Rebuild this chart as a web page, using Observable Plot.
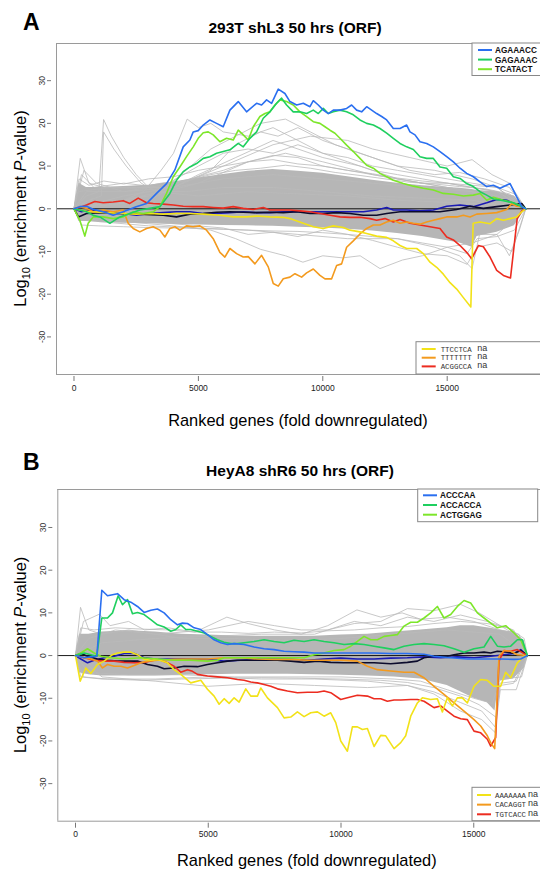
<!DOCTYPE html>
<html><head><meta charset="utf-8">
<script src="https://cdn.jsdelivr.net/npm/d3@7"></script>
<script src="https://cdn.jsdelivr.net/npm/@observablehq/plot@0.6"></script>
<style>
body{margin:0;background:#fff;width:540px;height:869px;overflow:hidden;font-family:"Liberation Sans",Arial,sans-serif}
svg{display:block}
</style></head><body><div id="chart"></div>
<script>
// ---------- shared ----------
const xTicks = [0, 5000, 10000, 15000];
const yTicks = [-30, -20, -10, 0, 10, 20, 30];
const titleA = "293T shL3 50 hrs (ORF)";
const titleB = "HeyA8 shR6 50 hrs (ORF)";
const xLabel = "Ranked genes (fold downregulated)";

// ---------- panel A: coloured series ([gene rank, log10 enrichment]) ----------
const A_AGAAACC = [[0,0],[235,0.5],[503,0.6],[771,-0.1],[1307,-0.9],[1575,-1.5],[1977,-0.7],[2500,0.5],[2916,1.25],[3318,3.6],[3720,5.9],[4055,9.1],[4390,14.5],[4658,16.1],[4792,18],[4993,18.3],[5194,19.6],[5462,20.8],[5730,20],[5998,19.2],[6267,23.1],[6602,25.1],[6937,22.7],[7339,24.7],[7540,24.3],[7741,25.5],[7942,24.7],[8210,28],[8478,27],[8680,25.1],[8948,24.3],[9216,24.7],[9484,23.9],[9618,25.3],[9819,24.3],[10020,23.1],[10221,22.3],[10422,23.1],[10690,23.1],[10958,23.5],[11159,24.3],[11360,23.1],[11562,22.7],[11763,23.9],[11964,23.1],[12165,22.3],[12366,21.6],[12567,20.8],[12835,18.8],[13103,18.8],[13371,19.6],[13505,18],[13706,17.3],[13907,15.7],[14175,15.3],[14443,14.5],[14711,13.4],[14980,12.2],[15248,11],[15516,9.5],[15784,8.3],[16052,7.5],[16320,6.3],[16588,5.2],[16856,5.5],[17125,4.8],[17527,5.9],[17795,2.8],[17996,0.5],[18157,0]];
const A_GAGAAAC = [[0,0],[235,-0.3],[503,-0.7],[771,-1.5],[1039,-1.9],[1441,-3.4],[1843,-1.9],[2245,-1.1],[2647,-0.3],[3050,0.1],[3452,0.5],[3854,3.6],[4122,6.7],[4390,8.7],[4658,9.8],[4926,10.6],[5194,11.8],[5462,12.2],[5730,13],[5998,13.4],[6267,13.8],[6602,15.3],[6803,14.5],[7071,16.5],[7339,18],[7607,21.2],[7875,22.7],[8143,24.7],[8344,25.9],[8545,24.3],[8813,22.7],[9082,22.7],[9350,22.3],[9618,23.1],[9819,22.3],[10020,23.5],[10221,22.3],[10422,22.7],[10690,23.1],[10958,22.7],[11226,22],[11494,20.8],[11763,20],[12031,19.6],[12299,18.8],[12567,17.7],[12835,16.5],[13103,15.3],[13371,14.5],[13639,13.9],[13907,12.2],[14175,11.8],[14443,11.8],[14711,9.8],[14980,9.5],[15248,7.5],[15516,7.1],[15784,5.9],[16052,5.2],[16320,4],[16588,3.2],[16856,2.3],[17259,1.9],[17661,1.4],[17996,0.5],[18157,0]];
const A_TCATACT = [[0,0],[235,-2.7],[436,-6.4],[570,-3.4],[771,-1.9],[1173,-1.9],[1575,-2.3],[1977,-1.9],[2379,-0.7],[2781,-1.1],[3184,-0.7],[3452,0.5],[3720,3.6],[3988,7.5],[4256,9.8],[4524,12.2],[4792,14.5],[4993,16.5],[5194,17.8],[5395,18],[5596,17.3],[5864,15.7],[6132,16.5],[6400,16.1],[6602,18.4],[6803,17.3],[7004,16.1],[7205,19.2],[7473,21.6],[7674,22.3],[7875,22.7],[8076,24.3],[8278,25.5],[8545,25.1],[8813,24.3],[9082,22.7],[9350,21.6],[9618,20.4],[9886,20],[10087,19.2],[10288,18.4],[10489,17.7],[10690,16.5],[10958,14.9],[11226,13.4],[11494,11.8],[11763,10.2],[12031,9.5],[12299,8.3],[12567,7.5],[12835,6.7],[13237,5.9],[13639,5.3],[14041,4.8],[14443,4.4],[14845,3.6],[15248,3.4],[15650,3],[16052,3.2],[16320,3.6],[16588,2],[16856,2.7],[17259,2],[17661,1.4],[17996,0.6],[18157,0]];
const A_TTCCTCA = [[0,0],[235,-0.3],[637,-0.7],[1307,-0.9],[1977,-1.1],[2500,-1.25],[3050,-1.1],[3586,-1.25],[4122,-1.1],[4658,-1.1],[5194,-1.25],[5864,-1.5],[6400,-1.9],[6937,-1.9],[7339,-1.7],[7875,-1.9],[8412,-2],[8680,-2.3],[9216,-3.4],[9618,-4.2],[10020,-4.6],[10422,-4],[10824,-4.4],[11092,-5],[11494,-5.4],[11763,-5.8],[12165,-6.4],[12567,-6.7],[12835,-7.5],[13103,-8.6],[13371,-9.3],[13773,-9.3],[14041,-10.5],[14309,-12.5],[14577,-13.7],[14845,-15.3],[15114,-17.3],[15382,-18.8],[15650,-20.8],[15949,-23],[16044,-3.4],[16320,-3.1],[16722,-3.5],[16990,-2.3],[17259,-2.7],[17527,-2.3],[17795,-1.9],[17996,-0.7],[18157,0]];
const A_TTTTTTT = [[0,0],[235,0.5],[503,0.1],[771,-0.7],[1173,-0.3],[1575,-0.7],[1977,-0.3],[2178,-3.4],[2379,-4.6],[2647,-5.4],[2916,-4.6],[3184,-4.2],[3452,-5],[3653,-6.6],[3854,-4.6],[4055,-4.2],[4256,-5],[4524,-4],[4792,-4.2],[5060,-4],[5328,-5],[5596,-7],[5864,-10.2],[6065,-11.3],[6267,-9.3],[6535,-10.5],[6803,-11.3],[7004,-11.2],[7272,-12.9],[7540,-10.9],[7808,-13.6],[8009,-17.5],[8210,-18.1],[8412,-16.4],[8680,-16],[8881,-15.2],[9149,-16],[9350,-15],[9618,-14.1],[9886,-15.6],[10087,-16.4],[10355,-16.4],[10556,-13.3],[10757,-12.9],[10958,-9],[11226,-7.5],[11494,-5.9],[11763,-4.6],[12031,-3.8],[12299,-3.8],[12567,-3.1],[12835,-2.7],[13103,-3.4],[13371,-3.1],[13639,-3.4],[13907,-3.6],[14175,-3.1],[14443,-2.7],[14711,-2.3],[14980,-1.9],[15382,-1.9],[15650,-1.5],[15918,-1.9],[16186,-1.25],[16588,-1.1],[16990,-0.9],[17393,-0.15],[17594,1.25],[17795,0.6],[17996,0.5],[18157,0]];
const A_ACGGCCA = [[0,0],[235,0.3],[503,0.9],[838,1.7],[1173,1.4],[1575,1.6],[1977,1.9],[2245,1.25],[2580,2.5],[2916,1.4],[3184,1.25],[3586,1.1],[3988,0.9],[4390,0.6],[4792,0.5],[5194,0.5],[5596,0.3],[5998,0.15],[6400,0.5],[6803,0.1],[7205,-0.15],[7607,0.3],[7875,-0.3],[8278,-0.3],[8680,-0.3],[9082,-0.5],[9484,-0.7],[9886,-1.1],[10288,-1.5],[10690,-1.9],[11092,-2],[11494,-2],[11896,-2.3],[12165,-2.7],[12500,-2.3],[12835,-3.1],[13103,-2.5],[13505,-3.4],[13907,-3.8],[14309,-4.2],[14711,-4.6],[14980,-6.6],[15248,-7.3],[15516,-8.6],[15784,-10.2],[15985,-11.7],[16253,-8.6],[16454,-8.9],[16722,-11.3],[16990,-14.4],[17259,-15.6],[17544,-16.2],[17813,-2.3],[17996,-0.5],[18157,0]];
const A_navy = [[0,0],[302,-0.7],[637,-0.3],[1307,-0.7],[1977,-1.1],[2513,-1.5],[3050,-1.1],[3586,-0.9],[4122,-0.7],[4658,-0.7],[5194,-1.1],[5730,-1.1],[6267,-0.9],[6803,-0.7],[7339,-0.9],[7875,-0.9],[8412,-0.7],[8948,-0.7],[9484,-0.7],[10020,-0.7],[10556,-0.7],[11092,-0.7],[11629,-0.7],[12165,-0.3],[12567,0.3],[12835,-0.3],[13371,-0.3],[13907,-0.5],[14443,-0.3],[14980,0.6],[15516,0.9],[16052,0.5],[16588,1.4],[16990,2.2],[17393,2],[17795,0.9],[18157,0]];
const A_black = [[0,0],[180,-1.9],[503,-1.1],[1039,-0.9],[1709,-1.1],[2647,-1.25],[3586,-1.5],[4122,-1.9],[4658,-1.25],[5194,-1.1],[5730,-0.8],[6267,-0.7],[6803,-0.8],[7339,-0.9],[7875,-0.8],[8412,-0.9],[8948,-0.7],[9484,-1.1],[10020,-1.1],[10556,-0.9],[11092,-1.1],[11629,-1.5],[12165,-1.5],[12567,-1.1],[13103,-0.7],[13639,-0.7],[14041,-0.7],[14711,-0.7],[15382,-0.15],[15918,0.6],[16454,0.1],[16990,0.5],[17527,0.9],[17996,1.25],[18157,0]];

// panel A: dense grey background band (upper / lower edge) and stray grey profiles
const A_bandX  = [0,200,500,1000,2000,3000,4000,5000,6000,7000,8000,9000,10000,11000,12000,13000,14000,15000,15500,16000,16200,17000,17700,18157];
const A_bandHi = [0,6,5,5,5.2,5.5,6.3,7.2,8,8.8,9.2,8.8,8.3,7.5,6.7,6,5.4,5,4.8,4.5,4.3,4,3,0];
const A_bandLo = [0,-3,-3,-3.2,-3.4,-3.5,-3.7,-3.8,-3.9,-4,-4.1,-4.3,-4.5,-4.8,-5.2,-5.8,-6.5,-7.5,-8,-9,-6.5,-5.5,-4,0];
const A_grey = [
  [[0,0],[500,3],[1000,4],[1190,20.9],[1500,17],[2000,12],[2500,8],[3000,5],[3500,4],[4500,4],[6000,5],[8000,5],[10000,4],[12000,3],[14000,2.5],[16000,2],[18157,0]],
  [[0,0],[600,2],[1100,3],[1190,18],[1600,14],[2100,10],[2700,6],[3300,4],[5000,3],[7000,4],[9000,3.5],[11000,3],[13000,2],[15000,1.5],[17000,1],[18157,0]],
  [[0,0],[1000,1],[2000,2],[2800,4],[3500,9],[4000,13],[4550,21],[5000,19],[5500,20],[6000,18],[7000,17],[8000,19],[9000,16],[10000,13],[11000,11],[12000,9],[13000,8],[14000,7],[15000,6],[16000,5],[17000,4],[18157,0]],
  [[0,0],[2000,2],[3500,4],[4500,9],[5500,14],[6500,17],[7500,20],[8500,21],[9500,18],[10500,15],[11500,13],[12500,11],[13500,9],[14500,8],[15500,8.5],[16500,7],[17500,5],[18157,0]],
  [[0,0],[2000,3],[4000,5],[6000,10],[8000,15],[9500,17],[11000,16],[12000,14],[13500,12],[15000,10],[16000,11.5],[16800,8],[17500,6],[18157,0]],
  [[0,0],[3000,3],[5000,6],[7000,11],[8500,13],[10000,11],[12000,8],[14000,6],[16000,4],[18157,0]],
  [[0,0],[3000,2],[5000,8],[6500,12],[8000,16],[9000,14],[10000,12],[11500,10],[13000,7],[15000,5],[17000,3],[18157,0]],
  [[0,0],[500,4],[2000,4],[4000,6],[6000,9],[7000,11],[8000,12.5],[9000,12],[10000,10],[11000,9],[12000,8],[13000,7],[14000,6],[15000,6],[16000,5],[17000,4],[18157,0]],
  [[0,0],[300,8],[800,5],[2000,6],[3500,5],[5000,10],[6000,13],[7000,14],[8000,13],[9000,15],[10000,13],[11000,12],[12000,10],[13000,9],[14000,8],[15000,7],[16000,6],[17000,5],[18157,0]],
  [[0,0],[250,11.8],[600,6],[1200,5],[2500,5],[4000,5],[6000,7],[8000,8],[10000,7],[12000,6],[14000,5],[16000,4],[18157,0]],
  [[0,0],[400,9],[900,6],[2000,4],[4000,5],[5500,9],[6500,15],[7500,18],[8200,17],[9000,19],[10000,16],[11000,14],[12000,12],[13000,10],[14500,9],[16000,7],[17000,5],[18157,0]],
  [[0,0],[200,7],[600,5.5],[1200,6.5],[2000,5.8],[3000,7],[4000,7.5],[5000,9],[6000,10],[7000,11],[8000,11.5],[9000,10.5],[10000,10],[11000,9],[12000,8.2],[13000,7.2],[14000,6.5],[15000,6],[16000,5.5],[17000,5],[17700,3.5],[18157,0]],
  [[0,0],[150,4],[800,4.5],[1500,5],[2500,4.8],[3500,6],[4500,6.5],[5500,8],[6500,9],[7500,9.5],[8500,10.2],[9500,9.5],[10500,8.5],[11500,7.8],[12500,7],[13500,6.2],[14500,5.8],[15500,5.2],[16500,4.7],[17500,3.5],[18157,0]],
  [[0,0],[300,-3.8],[1000,-4],[2000,-4.2],[3000,-4.4],[4000,-4.5],[5000,-4.6],[6000,-4.8],[7000,-5],[8000,-5.2],[9000,-5.3],[10000,-5.6],[11000,-6],[12000,-6.5],[13000,-7],[14000,-8],[15000,-9],[15800,-10.5],[16200,-7],[17000,-6.5],[17700,-5],[18157,0]],
  [[0,0],[2000,-3],[4000,-4],[5500,-5],[6500,-7],[7500,-9.5],[8500,-11],[9200,-12.5],[10000,-11],[10800,-11.5],[11500,-11],[12300,-14],[13200,-12],[14000,-11],[15000,-9],[16000,-8],[17000,-6],[18157,0]],
  [[0,0],[2000,-2.5],[4000,-3.5],[6000,-4.5],[7000,-6],[8000,-5.5],[9000,-6.5],[10000,-5],[11000,-6],[12000,-7.4],[13000,-9],[14000,-10.5],[15000,-11],[15800,-13],[16200,-9],[17000,-8],[17600,-10],[18157,0]],
  [[0,0],[1000,-3],[3000,-4],[5000,-4.5],[7000,-5],[9000,-6],[11000,-7],[13000,-7],[14500,-9],[15500,-11],[16000,-14],[16300,-6],[17000,-6],[17500,-11],[17900,-5],[18157,0]]
];

// ---------- panel B ----------
const B_ACCCAA = [[0,0],[326,-0.5],[577,-0.3],[803,-0.15],[991,15.3],[1205,14],[1581,14.5],[1832,13.1],[2083,12.5],[2334,11.5],[2585,10.1],[2836,10.6],[3087,10.9],[3338,10],[3589,8.4],[3840,7.2],[4029,7.6],[4217,7.5],[4468,6.5],[4719,6.1],[4970,4.9],[5221,3.7],[5472,3],[5723,2.6],[5974,2.8],[6350,2.6],[6727,2],[7103,1.6],[7480,1.4],[7856,1],[8233,0.9],[8609,0.8],[8986,0.6],[9362,0.6],[9990,0.6],[10617,0.6],[11245,0.6],[11872,0.5],[12500,0.5],[13127,0.3],[13504,-0.15],[14132,-0.5],[14759,-0.8],[15387,-0.8],[16014,-0.8],[16516,-0.9],[16767,-0.8],[17018,0]];
const B_ACCACCA = [[0,0],[326,0.6],[577,0.2],[803,-0.15],[991,8.8],[1205,8.8],[1393,10],[1607,14],[1770,11.9],[1958,13.1],[2146,9.8],[2334,10.1],[2585,9.6],[2836,8.4],[3087,7.2],[3338,6.7],[3589,5.7],[3778,6.1],[3966,7.2],[4154,6.1],[4342,6.1],[4593,5.7],[4845,5.3],[5095,4.5],[5346,3.7],[5597,3.1],[5848,2.8],[6099,2.8],[6350,3],[6727,3.3],[7103,3.7],[7480,3.3],[7856,3],[8233,3.6],[8609,3.3],[8986,3.7],[9362,3.3],[9739,3],[10115,2.6],[10491,2.8],[10868,2.6],[11245,2.2],[11622,1.8],[11998,1.4],[12374,2.2],[12751,2.6],[13127,2.8],[13504,2.6],[13880,2.3],[14257,1.6],[14634,0.8],[15010,1.6],[15387,2],[15638,4.5],[15889,2.2],[16140,2],[16391,2.2],[16642,3.7],[16830,3.7],[17018,0]];
const B_ACTGGAG = [[0,0],[201,0.6],[452,1.6],[703,0.6],[954,-0.15],[1330,-0.5],[1832,-0.8],[2460,-0.5],[3087,-0.8],[3715,-1.1],[4342,-1.1],[4970,-1.3],[5346,-1.1],[5597,-0.5],[6225,-0.5],[6852,-0.5],[7480,-0.5],[8107,-0.5],[8609,-0.5],[8986,0.2],[9362,0.6],[9739,1.2],[10115,1.4],[10366,2.2],[10617,3.3],[10868,4.5],[11119,3.7],[11371,3.7],[11622,4.5],[11872,4.7],[12123,4.9],[12374,6.9],[12626,7.8],[12877,7.8],[13127,8.8],[13378,10],[13629,11.5],[13880,8.8],[14132,9.6],[14383,11.5],[14634,12.9],[14885,12.3],[15136,10],[15387,8.8],[15638,7.6],[15889,6.5],[16203,7],[16516,5.3],[16767,3.7],[17018,0]];
const B_AAAAAAA = [[0,0],[176,-6],[389,-2.9],[577,-4.2],[828,-2.1],[1079,-1.3],[1393,0.2],[1581,0.6],[1832,0.8],[2083,0.8],[2334,0.2],[2585,-0.9],[2836,-1.1],[3087,-0.9],[3464,-1.7],[3715,-3.3],[3966,-4.4],[4342,-6.4],[4719,-5.8],[4970,-7.9],[5221,-9.5],[5409,-11.4],[5597,-10.1],[5786,-11.2],[5974,-9.9],[6162,-10.9],[6413,-7.8],[6601,-9.5],[6852,-9.5],[6978,-7.6],[7229,-9.9],[7606,-12.2],[7856,-14.6],[8107,-14.4],[8358,-13.2],[8609,-14.3],[8861,-13.4],[9112,-13.2],[9362,-14.2],[9613,-13.4],[9802,-15.7],[9990,-20],[10241,-22.4],[10429,-16.7],[10617,-16.7],[10806,-17.3],[10994,-17.1],[11245,-21.3],[11496,-18.7],[11684,-18.8],[11998,-21.8],[12249,-20.4],[12437,-18.8],[12626,-14.2],[12877,-11.1],[13065,-9.9],[13378,-10.3],[13629,-10.1],[13818,-13.2],[14006,-9.9],[14194,-11.8],[14383,-9.9],[14571,-9.9],[14759,-11.1],[15010,-7.2],[15261,-5.6],[15512,-5.8],[15763,-7.2],[16014,-7.2],[16203,-3.9],[16391,-5.2],[16642,-1.7],[16893,-0.15],[17018,0]];
const B_CACAGGT = [[0,0],[326,-0.5],[577,-0.8],[828,-1.3],[1017,-2.9],[1205,-2.1],[1456,-2.5],[1707,-2.5],[1958,-2.9],[2209,-2.3],[2460,-1.7],[2711,-1.3],[3087,-1.1],[3715,-0.9],[4342,-0.8],[4970,-0.8],[5597,-0.5],[6225,-0.5],[6852,-0.8],[7480,-0.9],[8107,-0.9],[8735,-1.1],[9362,-1.1],[9990,-1.1],[10617,-1.3],[10994,-2.5],[11371,-3.3],[11872,-3.6],[12374,-3.9],[12751,-3.9],[13127,-5.2],[13504,-7.2],[13880,-9.1],[14257,-11.1],[14634,-13],[15010,-15],[15261,-16.5],[15512,-18.8],[15638,-20.4],[15788,-21.8],[15951,-0.15],[16140,1.2],[16391,1],[16642,0.2],[17018,0]];
const B_TGTCACC = [[0,0],[326,-0.5],[703,-1.1],[1079,-1.3],[1456,-1.3],[1832,-1.6],[2209,-1.7],[2585,-1.6],[2962,-1.1],[3213,-1.1],[3464,-1.7],[3715,-2.5],[3966,-3.9],[4217,-3.3],[4405,-3.7],[4593,-4.4],[4970,-4.8],[5346,-5],[5723,-5.2],[6099,-5.6],[6350,-5.8],[6601,-6.2],[6852,-6.4],[7103,-6.8],[7354,-7.2],[7606,-7.8],[7982,-8.3],[8358,-8.7],[8735,-8.6],[9112,-8.6],[9362,-8.3],[9613,-8.7],[9990,-10.3],[10241,-9.9],[10617,-9.3],[10994,-9.5],[11245,-10.1],[11496,-10.1],[11747,-10.7],[11998,-10.4],[12249,-10.4],[12626,-10.3],[12877,-10.3],[13127,-10.7],[13504,-12.2],[13755,-11.8],[14006,-13],[14257,-14.2],[14508,-14.8],[14759,-15],[15010,-17.7],[15261,-18.1],[15512,-19.6],[15638,-21.2],[15826,-19.2],[15951,-1.3],[16140,1.2],[16391,1],[16642,1.4],[17018,0]];
const B_navy = [[0,0],[201,-0.8],[452,-1.7],[703,-1.1],[1079,-0.5],[1456,-0.15],[1832,0.5],[2209,0.5],[2585,-0.5],[3087,-0.9],[3715,-0.8],[4342,-0.8],[4970,-0.9],[5597,-1.3],[6225,-1.1],[6852,-0.9],[7480,-0.8],[8107,-0.9],[8735,-1.1],[9362,-0.8],[9990,-0.6],[10617,-0.8],[11245,-0.8],[11872,-0.6],[12500,-0.5],[13127,-0.3],[13755,-0.5],[14383,-0.3],[15010,-0.5],[15638,-0.15],[16140,0.2],[16516,0.5],[16767,1.4],[17018,0]];
const B_black = [[0,0],[201,0.5],[452,-0.15],[828,-0.8],[1205,-1.1],[1581,-1.3],[1958,-1.3],[2334,-1.3],[2711,-2.1],[3087,-2.5],[3338,-3.1],[3715,-2.9],[4091,-2.5],[4593,-2.6],[4970,-2.1],[5346,-1.7],[5723,-1.3],[6099,-1.1],[6601,-1.1],[7103,-1.1],[7606,-1.1],[8107,-1.3],[8609,-1.6],[9112,-1.3],[9613,-1.6],[10115,-1.7],[10617,-1.7],[11245,-1.7],[11872,-1.9],[12500,-1.6],[12877,-1.3],[13127,-0.5],[13504,-0.15],[14006,-0.15],[14257,0.2],[14634,0.6],[15010,0.6],[15387,0.8],[15638,0.6],[15889,1],[16265,0.8],[16516,0.5],[16767,1.2],[17018,0]];

const B_bandX  = [0,150,500,1000,2000,3000,4000,5000,6000,7000,8000,9000,10000,11000,12000,13000,14000,14500,15000,15500,15800,15950,16500,16900,17018];
const B_bandHi = [0,5,5,5.5,5.8,5.5,5,4.8,4.6,4.5,4.5,4.5,4.8,5,5.5,6,6.5,7,7,6.5,6.2,6,5.5,3.5,0];
const B_bandLo = [0,-4,-4.5,-4.8,-4.8,-4.8,-4.6,-4.5,-4.4,-4.4,-4.4,-4.5,-4.6,-4.8,-5,-5.5,-7,-8.5,-10,-11,-13,-6,-5.5,-3,0];
const B_grey = [
  [[0,0],[188,11.3],[500,6],[1000,5],[2000,6],[3000,5],[4000,4],[5000,4],[6000,4],[8000,3.5],[10000,4],[12000,5],[14000,6],[16000,5],[17018,0]],
  [[0,0],[300,8],[900,9.7],[1300,7],[2000,8],[2600,6],[3500,6.5],[4500,5.5],[5700,9],[6500,7.5],[7500,6],[8500,5],[9500,7],[10600,10.7],[11500,9],[12300,10],[13000,8.5],[14000,9],[15000,8],[16000,6],[16700,5],[17018,0]],
  [[0,0],[500,4],[1500,6],[3000,5],[5000,6],[6500,8],[7500,7],[8500,6],[9500,6],[10500,7.5],[11500,8],[12500,11],[13500,10.5],[14500,12],[15200,10],[16000,7],[16800,4],[17018,0]],
  [[0,0],[1000,3],[3000,4],[5000,4.5],[7000,5],[9000,5],[10500,8],[11500,7],[12500,9],[13500,8],[14500,9.5],[15500,8],[16500,6],[17018,0]],
  [[0,0],[200,6.5],[700,6],[1500,6.5],[2500,6.2],[3500,6],[4500,5.5],[5500,5.5],[6500,5.2],[7500,5.5],[8500,5.3],[9500,5.8],[10500,6],[11500,6.5],[12500,6.8],[13500,7.5],[14500,8],[15500,7.5],[16300,6.5],[16900,4],[17018,0]],
  [[0,0],[300,-5],[1200,-5.5],[2500,-5.8],[4000,-5.5],[5500,-5.3],[7000,-5.2],[8500,-5.3],[10000,-5.5],[11500,-5.8],[12500,-6.3],[13500,-7.5],[14500,-9.5],[15200,-11.5],[15850,-14.5],[15980,-6.5],[16600,-6],[17018,0]],
  [[0,0],[200,-5],[1000,-5.5],[3000,-5.5],[5000,-5],[7000,-5.5],[9000,-5.5],[11000,-6],[12500,-7],[13500,-8.5],[14500,-11],[15300,-13],[15800,-16.7],[16000,-7],[16500,-6.5],[17018,0]],
  [[0,0],[500,-4],[2000,-4.5],[4000,-4.5],[6000,-5],[8000,-5],[10000,-5],[12000,-5.5],[13000,-6],[14000,-8],[15000,-10],[15700,-11.2],[16000,-5.5],[16800,-5],[17018,0]],
  [[0,0],[1000,-5],[3000,-6],[5000,-7.2],[7000,-6.5],[9000,-7],[11000,-7.5],[12500,-7],[13500,-9],[14500,-13],[15300,-15],[15800,-18],[16000,-8],[16600,-8],[17018,0]]
];

// ---------- legends ----------
const legendA_top = ["AGAAACC", "GAGAAAC", "TCATACT"];
const legendA_bot = ["TTCCTCA", "TTTTTTT", "ACGGCCA"];
const legendB_top = ["ACCCAA", "ACCACCA", "ACTGGAG"];
const legendB_bot = ["AAAAAAA", "CACAGGT", "TGTCACC"];
const topColors = ["#2a6ff0", "#1fcf5f", "#7de62a"];
const botColors = ["#f2e218", "#f39a1e", "#ec2c20"];
const navyColor = "#1a1ab4", blackColor = "#0c0c2c";

const FONT = '"Liberation Sans", Arial, sans-serif';

function makePanel(o) {
  const band = o.bandX.map((x, i) => ({x, lo: o.bandLo[i], hi: o.bandHi[i]}));
  const series = [
    {d: o.navy, c: navyColor}, {d: o.black, c: blackColor},
    {d: o.bot[2], c: botColors[2]}, {d: o.bot[1], c: botColors[1]}, {d: o.bot[0], c: botColors[0]},
    {d: o.top[2], c: topColors[2]}, {d: o.top[1], c: topColors[1]}, {d: o.top[0], c: topColors[0]}
  ];
  const svg = Plot.plot({
    width: 540, height: o.height,
    marginTop: o.mt, marginBottom: o.mb, marginLeft: o.ml, marginRight: 0,
    x: {domain: o.xDomain, label: null},
    y: {domain: o.yDomain, label: null},
    style: {fontFamily: FONT, fontSize: "8.5px", background: "white", overflow: "visible"},
    marks: [
      Plot.areaY(band, {x: "x", y1: "lo", y2: "hi", fill: "#b6b6b6"}),
      ...o.grey.map(g => Plot.line(g, {x: d => d[0], y: d => d[1], stroke: "#bababa", strokeWidth: 0.8})),
      Plot.ruleY([0], {stroke: "#000", strokeWidth: 0.9}),
      ...series.map(s => Plot.line(s.d, {x: d => d[0], y: d => d[1], stroke: s.c, strokeWidth: 1.6})),
      Plot.ruleX([o.xDomain[0]], {stroke: "#9a9a9a", strokeWidth: 1}),
      Plot.ruleY([o.yDomain[0], o.yDomain[1]], {stroke: "#9a9a9a", strokeWidth: 1}),
      Plot.axisY(yTicks, {anchor: "left", tickSize: 4, dx: -5, tickPadding: 3, tickRotate: -90,
        tickFormat: d => String(d), stroke: "#777", fill: "#333", fontSize: 8.5, label: null}),
      Plot.axisX(xTicks, {anchor: "bottom", tickSize: 5, dy: 2, tickPadding: 3,
        tickFormat: d => String(d), stroke: "#777", fill: "#222", fontSize: 8.5, label: null})
    ]
  });
  const g = d3.select(svg).append("g").attr("text-anchor", "start");
  const txt = (x, y, s) => g.append("text").attr("x", x).attr("y", y).attr("text-anchor", "start").text(s);
  // panel letter + title
  txt(23, o.letterY, o.letter)
    .style("font-family", FONT).style("font-weight", "bold").style("font-size", "23px").attr("fill", "#000");
  txt(o.titleX, o.titleY, o.title).attr("text-anchor", "middle")
    .style("font-family", FONT).style("font-weight", "bold").style("font-size", "15.5px").attr("fill", "#000");
  // y axis title
  const cy = (o.mt + o.height - o.mb) / 2;
  const t = g.append("text").attr("transform", `translate(26,${cy}) rotate(-90)`).attr("text-anchor", "middle")
    .style("font-family", FONT).style("font-size", "16.4px").attr("fill", "#000");
  t.append("tspan").text("Log");
  t.append("tspan").text("10").attr("dy", 4).style("font-size", "11px");
  t.append("tspan").text(" (enrichment ").attr("dy", -4);
  t.append("tspan").text("P").style("font-style", "italic");
  t.append("tspan").text("-value)");
  // x axis title
  txt(o.xTitleX, o.xTitleY, xLabel).attr("text-anchor", "middle")
    .style("font-family", FONT).style("font-size", "16.4px").attr("fill", "#000");
  // top-right legend
  const L1 = o.legTop;
  g.append("rect").attr("x", L1.x).attr("y", L1.y).attr("width", 120).attr("height", L1.h)
    .attr("fill", "white").attr("stroke", "#888").attr("stroke-width", 1);
  o.topNames.forEach((n, i) => {
    const y = L1.y0 + i * L1.dy;
    g.append("line").attr("x1", L1.lx).attr("x2", L1.lx + 14).attr("y1", y).attr("y2", y)
      .attr("stroke", topColors[i]).attr("stroke-width", 2);
    txt(L1.lx + 17, y + 3, n)
      .style("font-family", FONT).style("font-weight", "bold").style("font-size", "8.2px").attr("fill", "#111");
  });
  // bottom-right legend
  const L2 = o.legBot;
  g.append("rect").attr("x", L2.x).attr("y", L2.y).attr("width", 160).attr("height", L2.h)
    .attr("fill", "white").attr("stroke", "#888").attr("stroke-width", 1);
  o.botNames.forEach((n, i) => {
    const y = L2.y0 + i * L2.dy;
    g.append("line").attr("x1", L2.lx).attr("x2", L2.lx + 14).attr("y1", y).attr("y2", y)
      .attr("stroke", botColors[i]).attr("stroke-width", 2);
    txt(L2.tx, y + 2.5, n)
      .style("font-family", '"Liberation Mono", "DejaVu Sans Mono", monospace').style("font-size", "7.4px").attr("fill", "#333");
    txt(L2.nx, y + 1.5, "na")
      .style("font-family", FONT).style("font-size", "9px").attr("fill", "#333");
  });
  return svg;
}

const root = document.getElementById("chart");
root.appendChild(makePanel({
  height: 440, mt: 43, mb: 66, ml: 56,
  xDomain: [-703, 18750], yDomain: [-38.8, 38.7],
  top: [A_AGAAACC, A_GAGAAAC, A_TCATACT], bot: [A_TTCCTCA, A_TTTTTTT, A_ACGGCCA],
  navy: A_navy, black: A_black, grey: A_grey,
  bandX: A_bandX, bandHi: A_bandHi, bandLo: A_bandLo,
  letter: "A", letterY: 30, title: titleA, titleX: 295, titleY: 33,
  xTitleX: 298, xTitleY: 426,
  topNames: legendA_top, botNames: legendA_bot,
  legTop: {x: 472, y: 43, h: 32.5, y0: 50, dy: 9.6, lx: 478},
  legBot: {x: 416, y: 341.7, h: 32.3, y0: 349, dy: 8.7, lx: 421.7, tx: 440.7, nx: 477.3}
}));
root.appendChild(makePanel({
  height: 429, mt: 49, mb: 48.3, ml: 57.3,
  xDomain: [-667, 17514], yDomain: [-38.8, 38.9],
  top: [B_ACCCAA, B_ACCACCA, B_ACTGGAG], bot: [B_AAAAAAA, B_CACAGGT, B_TGTCACC],
  navy: B_navy, black: B_black, grey: B_grey,
  bandX: B_bandX, bandHi: B_bandHi, bandLo: B_bandLo,
  letter: "B", letterY: 30, title: titleB, titleX: 300, titleY: 36,
  xTitleX: 306.8, xTitleY: 425.5,
  topNames: legendB_top, botNames: legendB_bot,
  legTop: {x: 417.7, y: 49, h: 32.7, y0: 55.3, dy: 9.7, lx: 423},
  legBot: {x: 472, y: 347.3, h: 33.4, y0: 355, dy: 9.65, lx: 477, tx: 495, nx: 528}
}));
</script></body></html>
